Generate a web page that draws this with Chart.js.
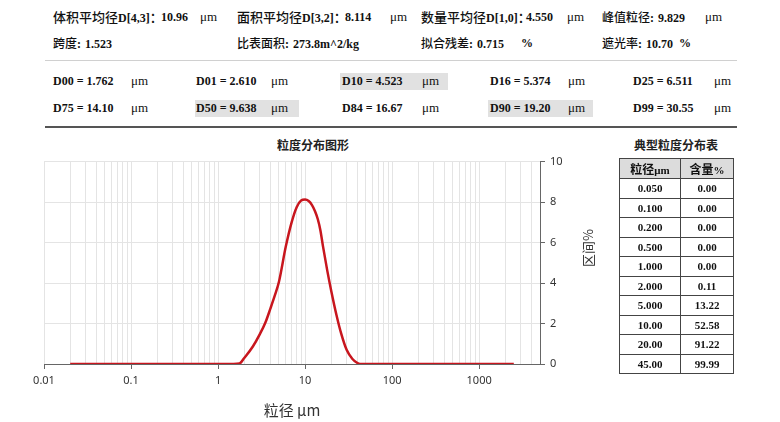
<!DOCTYPE html>
<html>
<head>
<meta charset="utf-8">
<script src="https://cdn.jsdelivr.net/npm/chart.js@4.4.1/dist/chart.umd.min.js"></script>
<style>
  body { margin: 0; width: 780px; height: 422px; background: #fff; position: relative; overflow: hidden;
         font-family: "Liberation Serif", "Noto Sans CJK SC", serif; color: #111; }
  .t { position: absolute; white-space: nowrap; line-height: 16px; font-size: 12px; font-weight: bold; }
  .cn { font-family: "Noto Sans CJK SC", sans-serif; font-size: 13px; font-weight: 500; }
  .cs { font-family: "Noto Sans CJK SC", sans-serif; font-size: 12px; font-weight: 500; }
  .gap { margin-left: 4px; }
  .u { position: absolute; white-space: nowrap; line-height: 16px; font-size: 13px; }
  .shade { position: absolute; background: #e1e1e1; }
  .rule { position: absolute; left: 45px; width: 692px; }
  #chartBox { position: absolute; left: 0; top: 150px; width: 600px; height: 272px; }
  .title { position: absolute; font-family: "Noto Sans CJK SC", sans-serif; font-size: 12px; font-weight: 600;
           color: #222; transform: translateX(-50%); white-space: nowrap; line-height: 16px; }
  #yTitle { position: absolute; left: 587px; top: 248px; font-family: "Noto Sans CJK SC", sans-serif; font-size: 13px;
            color: #333; transform: translate(-50%, -50%) rotate(-90deg); white-space: nowrap; }
  table { position: absolute; left: 619px; top: 158px; border-collapse: collapse; width: 115px; }
  td { border: 1px solid #444; text-align: center; font-family: "Liberation Serif", serif; font-weight: bold;
       font-size: 11px; height: 18.5px; padding: 0; color: #111; }
  td.h { background: #dcdcdc; height: 19px; }
  td.h .cn { font-size: 12px; font-weight: 600; }
</style>
</head>
<body>
<!-- summary lines -->
<div class="t" style="left:53px;top:9px"><span class="cn">体积平均径</span>D[4,3]<span class="cn">：</span></div>
<div class="t" style="left:161px;top:9px">10.96</div><div class="u" style="left:200px;top:9px">μm</div>
<div class="t" style="left:237px;top:9px"><span class="cn">面积平均径</span>D[3,2]<span class="cn">：</span></div>
<div class="t" style="left:345px;top:9px">8.114</div><div class="u" style="left:390px;top:9px">μm</div>
<div class="t" style="left:421px;top:9px"><span class="cn">数量平均径</span>D[1,0]<span class="cn">：</span></div>
<div class="t" style="left:526px;top:9px">4.550</div><div class="u" style="left:567px;top:9px">μm</div>
<div class="t" style="left:602px;top:9px"><span class="cs">峰值粒径</span>:<span class="gap">9.829</span></div>
<div class="u" style="left:705px;top:9px">μm</div>

<div class="t" style="left:53px;top:35px"><span class="cs">跨度</span>:<span class="gap">1.523</span></div>
<div class="t" style="left:237px;top:35px"><span class="cs">比表面积</span>:<span class="gap">273.8m^2/kg</span></div>
<div class="t" style="left:421px;top:35px"><span class="cs">拟合残差</span>:<span class="gap">0.715</span></div>
<div class="t" style="left:521px;top:35px">%</div>
<div class="t" style="left:602px;top:35px"><span class="cs">遮光率</span>:<span class="gap">10.70</span></div>
<div class="t" style="left:679px;top:35px">%</div>

<div class="rule" style="top:60px;height:1px;background:#d0d0d0"></div>

<!-- D values -->
<div class="shade" style="left:340px;top:73px;width:108px;height:17px"></div>
<div class="shade" style="left:195px;top:100px;width:104px;height:17px"></div>
<div class="shade" style="left:488px;top:100px;width:105px;height:17px"></div>
<div id="dRows"></div>

<div class="rule" style="top:126px;height:2px;background:#555"></div>

<div class="title" style="left:313px;top:137px">粒度分布图形</div>
<div class="title" style="left:676px;top:137px">典型粒度分布表</div>

<div id="chartBox"><canvas id="psdChart" width="600" height="272"></canvas></div>
<div id="yTitle">区间%</div>

<table id="typTable"></table>

<script>
// percentile diameters (um)
const dNames = ['D00', 'D01', 'D10', 'D16', 'D25', 'D75', 'D50', 'D84', 'D90', 'D99'];
const dValues = ['1.762', '2.610', '4.523', '5.374', '6.511', '14.10', '9.638', '16.67', '19.20', '30.55'];

// volume distribution curve (size in um, interval %)
const sizes = [0.02, 0.5, 1, 1.5, 1.76, 2, 2.5, 3, 3.5, 4, 4.5, 5, 6, 7, 8, 9, 10, 11, 12, 13, 14, 15, 16,
               18, 20, 23, 26, 30, 35, 40, 45, 50, 100, 1000, 2500];
const intervalPct = [0, 0, 0, 0, 0.02, 0.3, 0.85, 1.45, 2.05, 2.75, 3.4, 4.05, 5.8, 7.0, 7.75, 8.08, 8.13, 8.05, 7.85, 7.55, 7.15, 6.6, 5.85,
                     4.6, 3.6, 2.4, 1.5, 0.7, 0.25, 0.05, 0, 0, 0, 0, 0];

const xTickLabels = ['0.01', '0.1', '1', '10', '100', '1000'];
const xMin = 0.01, xMax = 5000;
const yMax = 10, yStep = 2;

// typical size table
const typicalSizes = ['0.050', '0.100', '0.200', '0.500', '1.000', '2.000', '5.000', '10.00', '20.00', '45.00'];
const typicalCum = ['0.00', '0.00', '0.00', '0.00', '0.00', '0.11', '13.22', '52.58', '91.22', '99.99'];

// D rows
const dCols = [53, 196, 342, 490, 633];
const uCols = [131, 271, 422, 568, 714];
const dRows = document.getElementById('dRows');
dNames.forEach((n, i) => {
    const row = Math.floor(i / 5), col = i % 5;
    const top = row === 0 ? 73 : 100;
    dRows.insertAdjacentHTML('beforeend',
        `<div class="t" style="left:${dCols[col]}px;top:${top}px">${n} = ${dValues[i]}</div>` +
        `<div class="u" style="left:${uCols[col]}px;top:${top}px">μm</div>`);
});

// table
const tbl = document.getElementById('typTable');
let html = '<tr><td class="h" style="width:60px"><span class="cn">粒径</span>μm</td><td class="h"><span class="cn">含量</span>%</td></tr>';
typicalSizes.forEach((s, i) => { html += `<tr><td>${s}</td><td>${typicalCum[i]}</td></tr>`; });
tbl.innerHTML = html;

// grid at every 1..9 x 10^k
const gridValues = [];
for (let k = -2; k <= 3; k++) {
    for (let m = 1; m <= 9; m++) {
        const v = Number((m * Math.pow(10, k)).toPrecision(6));
        if (v >= xMin && v <= xMax) gridValues.push(v);
    }
}
const isDecade = v => Math.abs(Math.log10(v) - Math.round(Math.log10(v))) < 1e-9;

const ctx = document.getElementById('psdChart').getContext('2d');
new Chart(ctx, {
    type: 'line',
    data: {
        datasets: [{
            data: sizes.map((s, i) => ({ x: s, y: intervalPct[i] })),
            borderColor: '#c8161e',
            borderWidth: 2.5,
            pointRadius: 0,
            cubicInterpolationMode: 'monotone',
            fill: false
        }]
    },
    options: {
        responsive: false,
        animation: false,
        layout: { padding: { left: 44, top: 7, right: 0, bottom: 0 } },
        plugins: { legend: { display: false }, tooltip: { enabled: false } },
        scales: {
            x: {
                type: 'logarithmic',
                min: xMin,
                max: xMax,
                afterBuildTicks: s => { s.ticks = gridValues.map(v => ({ value: v })); },
                afterFit: s => { s.height = 58; },
                grid: {
                    color: '#e4e4e4',
                    tickColor: c => (c.tick && isDecade(c.tick.value)) ? '#666' : 'rgba(0,0,0,0)',
                    tickLength: 5
                },
                border: { color: '#666', width: 1 },
                ticks: {
                    autoSkip: false, maxRotation: 0, padding: 5, color: '#333',
                    font: { family: 'Noto Sans', size: 11 },
                    callback: v => isDecade(v) ? xTickLabels[Math.round(Math.log10(v)) + 2] : ''
                },
                title: {
                    display: true, text: '粒径 μm', color: '#333',
                    font: { family: 'Noto Sans CJK SC', size: 15 },
                    padding: { top: 0, bottom: 3 }
                }
            },
            y: {
                position: 'right',
                min: 0,
                max: yMax,
                afterFit: s => { s.width = 60; },
                grid: { color: '#e4e4e4', tickColor: '#666', tickLength: 5 },
                border: { color: '#666', width: 1 },
                ticks: { stepSize: yStep, padding: 5, color: '#333', font: { family: 'Noto Sans', size: 11 } }
            }
        }
    }
});
</script>
</body>
</html>
